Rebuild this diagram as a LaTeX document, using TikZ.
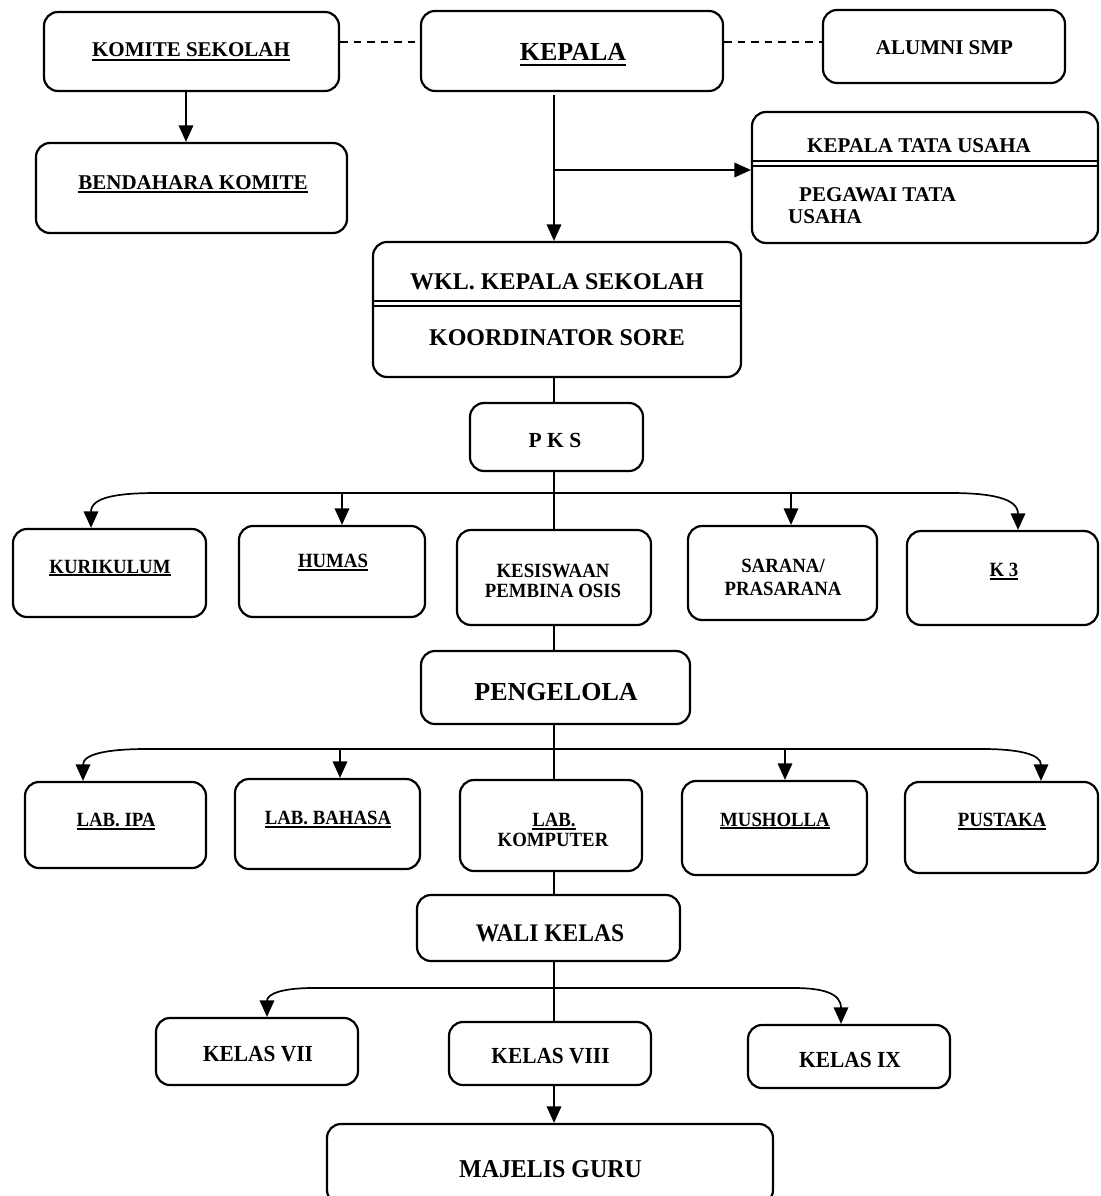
\documentclass[tikz,border=0pt]{standalone}
\usepackage{fontspec}
\setmainfont{Liberation Serif}
\newfontfamily\cond{Liberation Serif}[FakeStretch=0.93]
\usetikzlibrary{arrows.meta}
\newsavebox\ulbox
\newcommand{\ulx}[3]{\sbox\ulbox{#3}\rlap{\rule[#1]{\wd\ulbox}{#2}}\usebox\ulbox}
\newcommand{\bx}[5]{\node[box, minimum width=#4pt, minimum height=#5pt] (#1) at (#2,#3) {};}
\begin{document}
\begin{tikzpicture}[x=1pt, y=-1pt,
  box/.style={draw, line width=2.2pt, rounded corners=14pt, inner sep=0pt},
  conn/.style={line width=1.7pt},
  arr/.style={conn, -{Triangle[length=16.5pt,width=14.5pt]}},
  darr/.style={conn, {Triangle[length=16.5pt,width=14.5pt]}-{Triangle[length=16.5pt,width=14.5pt]}},
  dbl/.style={line width=2.3pt},
  dsh/.style={line width=2pt, dash pattern=on 7.5pt off 6pt},
  txt/.style={inner sep=0pt, anchor=base, font=\bfseries\fontsize{#1}{#1}\selectfont},
  ctxt/.style={inner sep=0pt, anchor=base, font=\cond\bfseries\fontsize{#1}{#1}\selectfont}]
\useasboundingbox (0,0) rectangle (1100,1196);
\fill[white] (0,0) rectangle (1100,1196);
\clip (0,0) rectangle (1100,1196);

% boxes
\bx{komite}{191.5}{51.5}{295}{79}
\bx{kepala}{572}{51}{302}{80}
\bx{alumni}{944}{46.5}{242}{73}
\bx{bend}{191.5}{188}{311}{90}
\bx{ktu}{925}{177.5}{346}{131}
\bx{wkl}{557}{309.5}{368}{135}
\bx{pks}{556.5}{437}{173}{68}
\bx{kur}{109.5}{573}{193}{88}
\bx{humas}{332}{571.5}{186}{91}
\bx{kes}{554}{577.5}{194}{95}
\bx{sarana}{782.5}{573}{189}{94}
\bx{kthree}{1002.5}{578}{191}{94}
\bx{peng}{555.5}{687.5}{269}{73}
\bx{labipa}{115.5}{825}{181}{86}
\bx{labbhs}{327.5}{824}{185}{90}
\bx{labkom}{551}{825.5}{182}{91}
\bx{mush}{774.5}{828}{185}{94}
\bx{pust}{1001.5}{827.5}{193}{91}
\bx{wali}{548.5}{928}{263}{66}
\bx{ksev}{257}{1051.5}{202}{67}
\bx{keig}{550}{1053.5}{202}{63}
\bx{knin}{849}{1056.5}{202}{63}
\bx{maj}{550}{1164}{446}{80}

% texts
\node[txt=21] (komite-t) at (191,57) {\ulx{-4pt}{1.8pt}{KOMITE SEKOLAH}};
\node[txt=26] (kepala-t) at (573,61) {\ulx{-5.5pt}{2.3pt}{KEPALA}};
\node[txt=21] (alumni-t) at (944.5,55) {ALUMNI SMP};
\node[txt=21] (bend-t) at (193,189) {\ulx{-4pt}{2pt}{BENDAHARA KOMITE}};
\node[txt=21] (ktu-t1) at (919,153) {KEPALA TATA USAHA};
\node[txt=21, anchor=base west] (ktu-t2) at (799,201) {PEGAWAI TATA};
\node[txt=21, anchor=base west] (ktu-t3) at (788,223) {USAHA};
\node[txt=24] (wkl-t1) at (557,289) {WKL. KEPALA SEKOLAH};
\node[txt=24] (wkl-t2) at (557,345) {KOORDINATOR SORE};
\node[txt=21.5] (pks-t) at (555,447) {P K S};
\node[ctxt=20.2] (kur-t) at (110,573) {\ulx{-3pt}{2pt}{KURIKULUM}};
\node[ctxt=20.2] (humas-t) at (333,567.5) {\ulx{-3pt}{2pt}{HUMAS}};
\node[ctxt=20.2] (kes-t1) at (553,577.5) {KESISWAAN};
\node[ctxt=20.2] (kes-t2) at (553,597.5) {PEMBINA OSIS};
\node[ctxt=20.2] (sar-t1) at (783,572.5) {SARANA/};
\node[ctxt=20.2] (sar-t2) at (783,595) {PRASARANA};
\node[ctxt=20.2] (k3-t) at (1004,576.5) {\ulx{-3pt}{2pt}{K 3}};
\node[txt=26] (peng-t) at (556,700.5) {PENGELOLA};
\node[ctxt=20.2] (labipa-t) at (116,826.5) {\ulx{-3pt}{2pt}{LAB. IPA}};
\node[ctxt=20.2] (labbhs-t) at (328,824.5) {\ulx{-3pt}{2pt}{LAB. BAHASA}};
\node[ctxt=20.2] (labkom-t1) at (554,826.5) {\ulx{-3pt}{2pt}{LAB.}};
\node[ctxt=20.2] (labkom-t2) at (553,846.5) {KOMPUTER};
\node[ctxt=20.2] (mush-t) at (775,826) {\ulx{-3pt}{2pt}{MUSHOLLA}};
\node[ctxt=20.2] (pust-t) at (1002,826.5) {\ulx{-3pt}{2pt}{PUSTAKA}};
\node[ctxt=25.3] (wali-t) at (550,941.5) {WALI KELAS};
\node[ctxt=23] (k7-t) at (258,1061.5) {KELAS VII};
\node[ctxt=23] (k8-t) at (550.5,1063) {KELAS VIII};
\node[ctxt=23] (k9-t) at (850,1067) {KELAS IX};
\node[ctxt=25.7] (maj-t) at (550.5,1177.5) {MAJELIS GURU};

% helper coordinates
\coordinate (spine) at (554,0);
\coordinate (dl) at (0,42);
\coordinate (kx) at (186,0);
\coordinate (br) at (554,170);
\coordinate (kd1) at (0,161.3);
\coordinate (kd2) at (0,166.3);
\coordinate (wd1) at (0,300.7);
\coordinate (wd2) at (0,305.7);
\coordinate (b1) at (554,493);
\coordinate (b2) at (554,749);
\coordinate (b3) at (554,988);

% connectors
\draw[dsh] (komite.east |- dl) -- (kepala.west |- dl);
\draw[dsh] (kepala.east |- dl) -- (alumni.west |- dl);
\draw[arr] (komite.south -| kx) -- (bend.north -| kx);
\draw[arr] ([yshift=-3pt]kepala.south -| spine) -- (wkl.north -| spine);
\draw[arr] (br) -- (ktu.west |- br);
\draw[dbl] (ktu.west |- kd1) -- (ktu.east |- kd1);
\draw[dbl] (ktu.west |- kd2) -- (ktu.east |- kd2);
\draw[dbl] (wkl.west |- wd1) -- (wkl.east |- wd1);
\draw[dbl] (wkl.west |- wd2) -- (wkl.east |- wd2);
\draw[conn] (wkl.south -| spine) -- (pks.north -| spine);
\draw[conn] (pks.south -| spine) -- (kes.north -| spine);
\draw[darr] ([xshift=-18.5pt]kur.north) .. controls (91,497) and (118,493) .. (157,493) -- (950,493) .. controls (990,493) and (1018,498) .. ([xshift=15.5pt]kthree.north);
\draw[arr] ([xshift=10pt]humas.north |- b1) -- ([xshift=10pt]humas.north);
\draw[arr] ([xshift=8.5pt]sarana.north |- b1) -- ([xshift=8.5pt]sarana.north);
\draw[conn] (kes.south -| spine) -- (peng.north -| spine);
\draw[conn] (peng.south -| spine) -- (labkom.north -| spine);
\draw[darr] ([xshift=-32.5pt]labipa.north) .. controls (83,754) and (107,749) .. (147,749) -- (982,749) .. controls (1018,749) and (1041,754) .. ([xshift=39.5pt]pust.north);
\draw[arr] ([xshift=12.5pt]labbhs.north |- b2) -- ([xshift=12.5pt]labbhs.north);
\draw[arr] ([xshift=10.5pt]mush.north |- b2) -- ([xshift=10.5pt]mush.north);
\draw[conn] (labkom.south -| spine) -- (wali.north -| spine);
\draw[conn] (wali.south -| spine) -- (keig.north -| spine);
\draw[darr] ([xshift=10pt]ksev.north) .. controls (267,993) and (285,988) .. (313,988) -- (794,988) .. controls (822,988) and (841,993) .. ([xshift=-8pt]knin.north);
\draw[arr] (keig.south -| spine) -- (maj.north -| spine);
\end{tikzpicture}
\end{document}
